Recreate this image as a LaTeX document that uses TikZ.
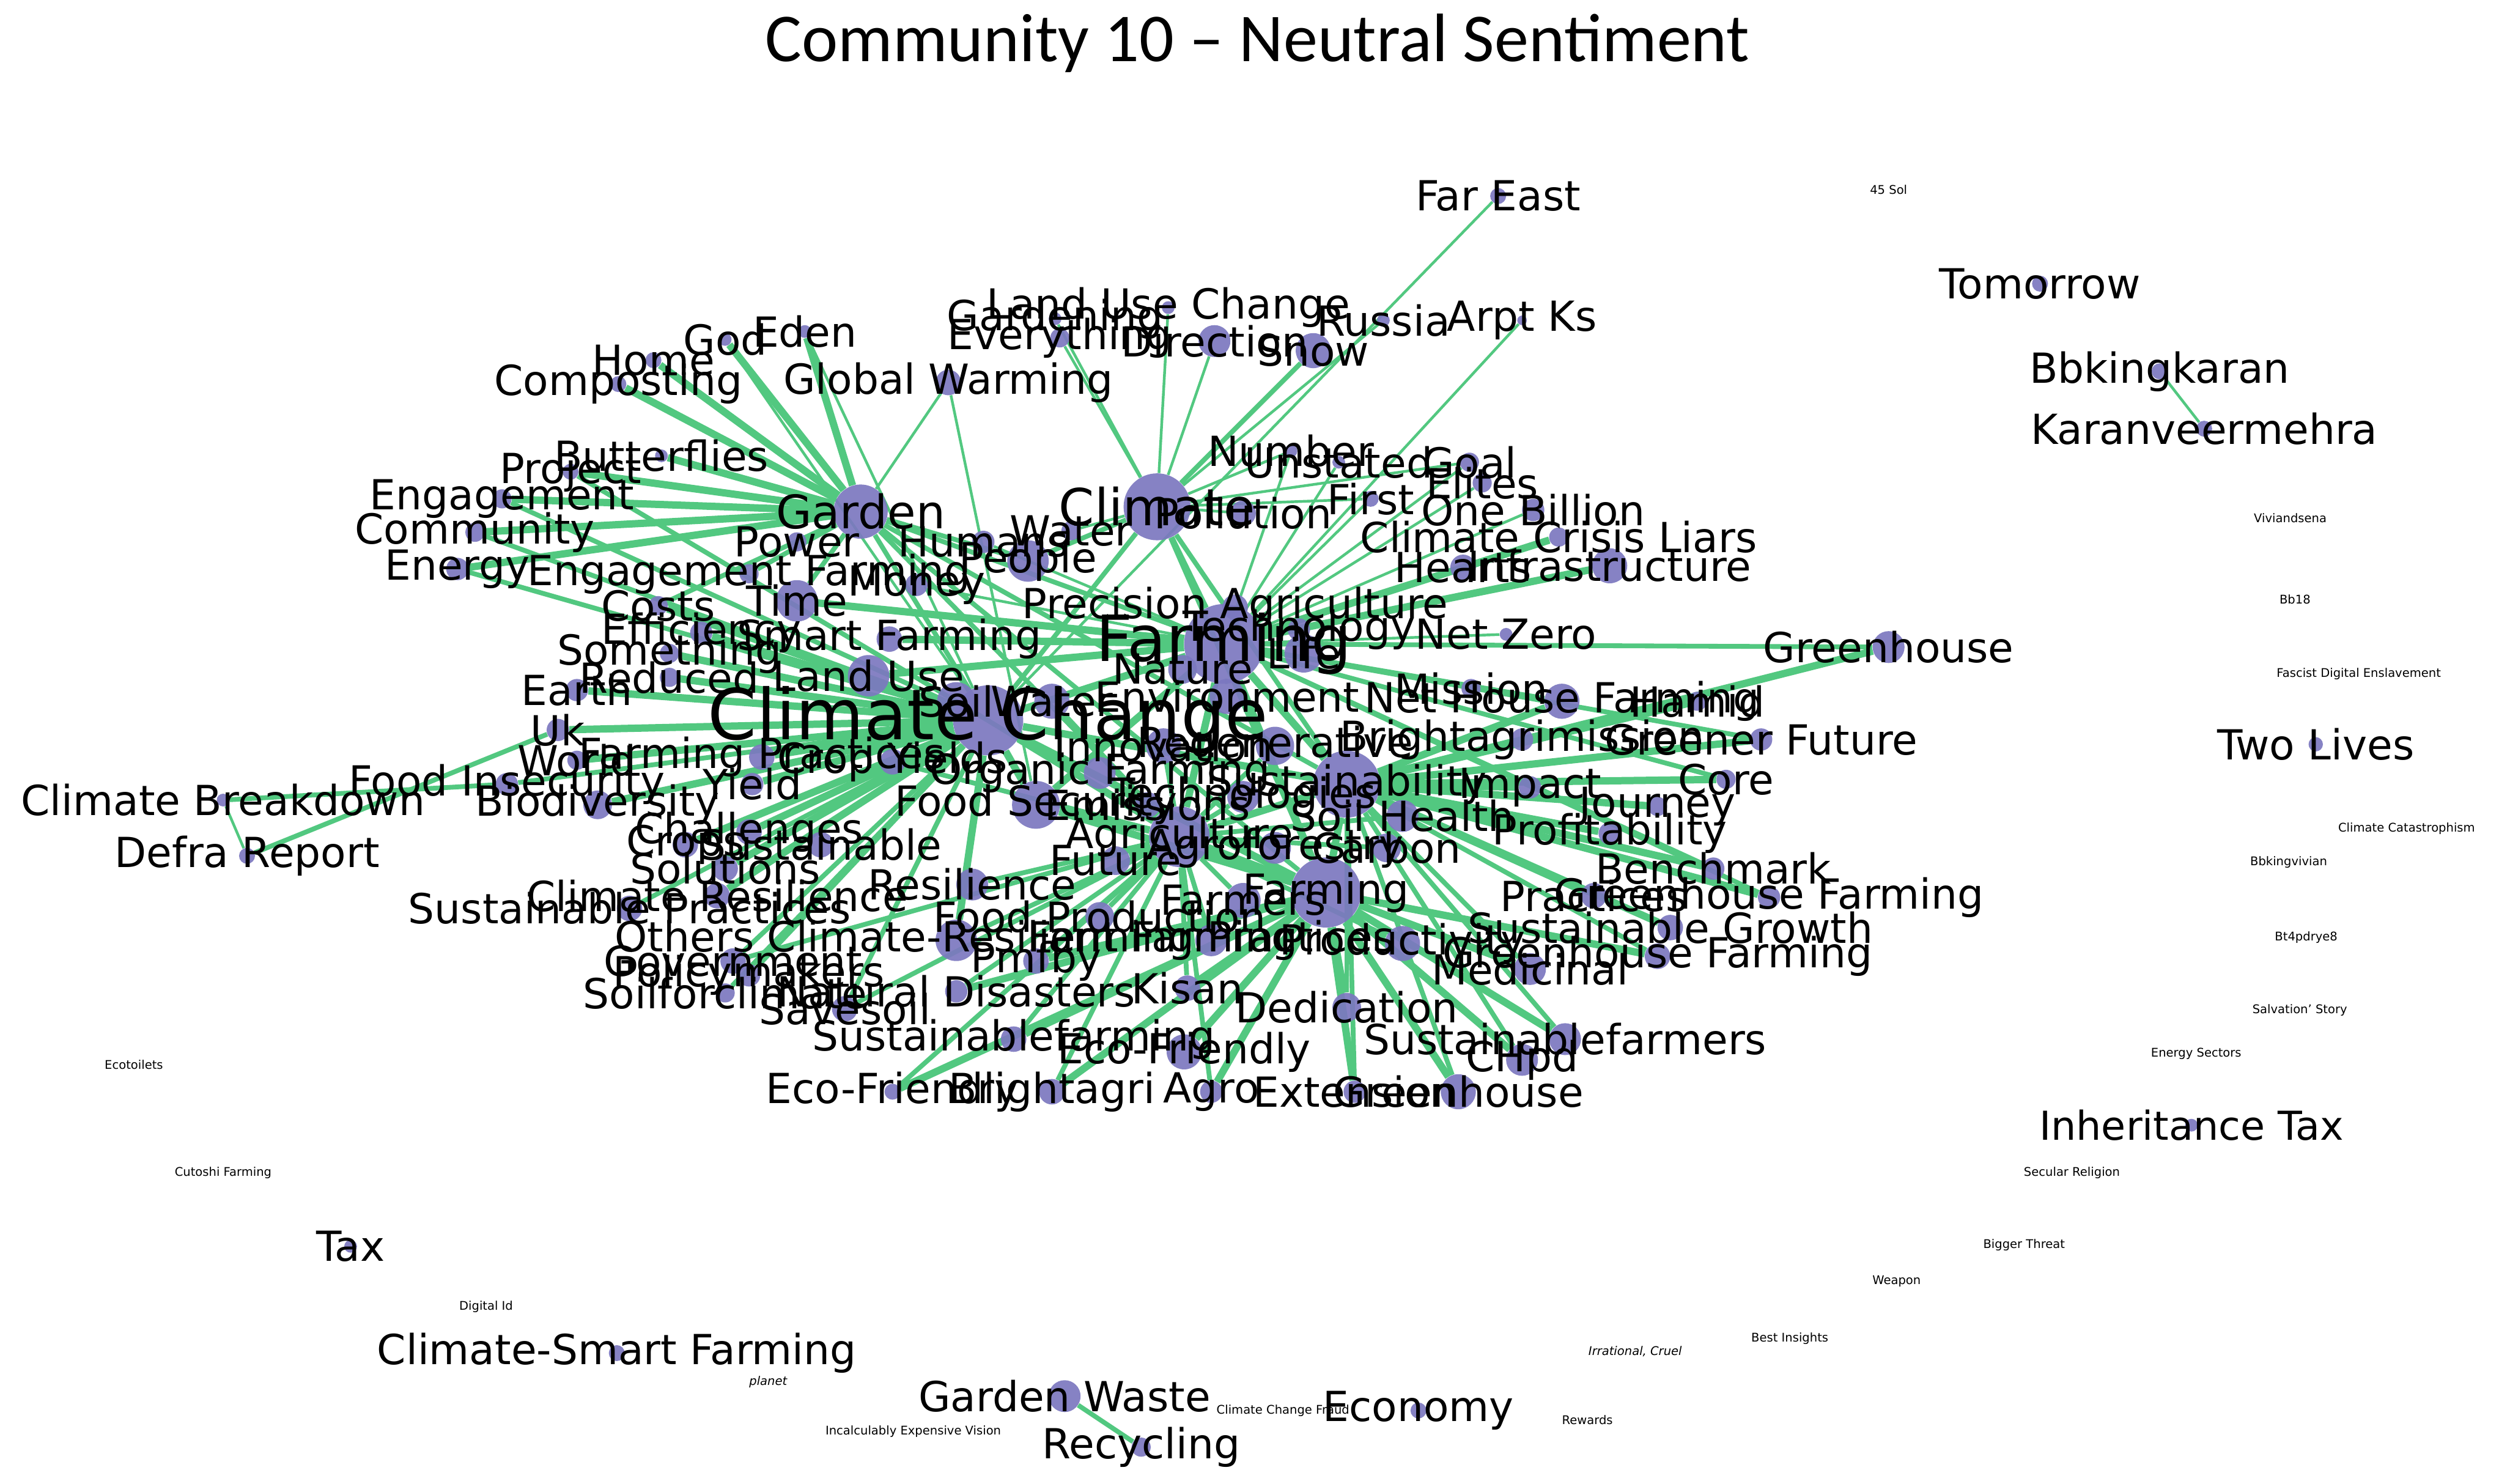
\documentclass[tikz,border=0pt]{standalone}
\usepackage{fontspec}
\setmainfont{DejaVu Sans}
\newfontfamily\titlefont{Carlito}
\usetikzlibrary{backgrounds}
\definecolor{edgegreen}{RGB}{82,200,128}
\definecolor{dotpurple}{RGB}{124,120,192}
\pgfdeclarelayer{fg}
\pgfsetlayers{background,main,fg}
\tikzset{
  dot/.style={circle,fill=dotpurple,fill opacity=0.92,inner sep=0pt,draw=none},
  lbl/.style={inner sep=0pt,text=black},
  ea/.style={draw=edgegreen,line width=1.7pt},
  eb/.style={draw=edgegreen,line width=3pt},
  ec/.style={draw=edgegreen,line width=4.6pt},
}
% name, x, y, dot diameter, font size, text
\newcommand\vx[6]{%
  \node[dot,minimum size=#4pt] (#1) at (#2,#3) {};
  \begin{pgfonlayer}{fg}\node[lbl,font=\fontsize{#5}{#5}\selectfont] (#1t) at (#2,#3) {#6};\end{pgfonlayer}}
% text only
\newcommand\tx[5]{%
  \begin{pgfonlayer}{fg}\node[lbl,font=\fontsize{#4}{#4}\selectfont] (#1) at (#2,#3) {#5};\end{pgfonlayer}}
\begin{document}
\begin{tikzpicture}[x=1pt,y=-1pt]
\useasboundingbox (0,0) rectangle (1568,931);
\tx{title}{789}{27}{43}{\titlefont Community 10 – Neutral Sentiment}

% ---------- hubs
\vx{farm}{768}{404}{50}{40}{Farming}
\vx{clch}{620}{452}{44}{44}{Climate Change}
\vx{climT}{726}{318}{42}{32}{Climate}
\vx{garden}{540}{321}{34}{29}{Garden}
\vx{hubA}{845}{492}{42}{26}{Sustainability}
\vx{hubB}{832}{560}{44}{26}{Farming}
\vx{hubC}{740}{525}{38}{26}{Agriculture}
\vx{hubD}{650}{505}{30}{26}{Food Security}

% ---------- top
\vx{fe}{940}{123}{10}{26}{Far East}
\vx{lu}{733}{193}{8}{26}{Land Use Change}
\vx{gard2}{662}{200}{8}{26}{Gardening}
\vx{every}{665}{212}{12}{26}{Everything}
\vx{dir}{762}{214}{20}{26}{Direction}
\vx{snow}{824}{220}{22}{26}{Snow}
\vx{rus}{868}{201}{8}{26}{Russia}
\vx{arp}{955}{201}{6}{26}{Arpt Ks}
\vx{eden}{505}{208}{8}{26}{Eden}
\vx{god}{455}{213}{8}{26}{God}
\vx{home}{410}{226}{10}{26}{Home}
\vx{comp}{388}{241}{10}{26}{Composting}
\vx{gwarm}{595}{240}{16}{26}{Global Warming}
\vx{butt}{415}{286}{8}{26}{Butterflies}
\vx{proj}{358}{296}{10}{26}{Project}
\vx{eng}{315}{313}{12}{26}{Engagement}
\vx{comm}{298}{334}{12}{26}{Community}
\vx{ener}{287}{357}{14}{26}{Energy}
\vx{ef}{470}{360}{12}{26}{Engagement Farming}
\vx{power}{500}{340}{12}{26}{Power}
\vx{hum}{617}{340}{14}{26}{Humans}
\vx{water}{672}{333}{12}{26}{Water}
\vx{people}{645}{352}{26}{26}{People}
\vx{poll}{780}{322}{16}{26}{Pollution}
\vx{numb}{810}{283}{8}{26}{Number}
\vx{unst}{840}{290}{8}{26}{Unstated}
\vx{goal}{922}{290}{12}{26}{Goal}
\vx{first}{860}{313}{10}{26}{First}
\vx{elit}{930}{303}{12}{26}{Elites}
\vx{oneb}{962}{320}{14}{26}{One Billion}
\vx{ccl}{978}{337}{12}{26}{Climate Crisis Liars}
\vx{hear}{918}{356}{16}{26}{Hearts}
\vx{infra}{1010}{355}{22}{26}{Infrastructure}

% ---------- left middle
\vx{money}{575}{367}{14}{26}{Money}
\vx{time}{500}{377}{26}{26}{Time}
\vx{costs}{413}{380}{12}{26}{Costs}
\vx{effi}{440}{397}{14}{26}{Efficiency}
\vx{smart}{558}{401}{16}{26}{Smart Farming}
\vx{someth}{420}{410}{12}{26}{Something}
\vx{redu}{420}{425}{12}{26}{Reduced}
\vx{landuse}{545}{424}{26}{26}{Land Use}
\vx{earth}{362}{433}{14}{26}{Earth}
\vx{uk}{350}{458}{14}{26}{Uk}
\vx{world}{362}{477}{12}{26}{World}
\vx{fp}{478}{475}{16}{26}{Farming Practices}
\vx{fi}{318}{492}{14}{26}{Food Insecurity}
\vx{bio}{375}{505}{18}{26}{Biodiversity}
\vx{yield}{472}{492}{14}{26}{Yield}
\vx{chal}{470}{522}{16}{26}{Challenges}
\vx{crops}{430}{530}{16}{26}{Crops}
\vx{susa}{515}{530}{16}{26}{Sustainable}
\vx{solu}{455}{545}{16}{26}{Solutions}
\vx{cres}{450}{562}{16}{26}{Climate Resilience}
\vx{spract}{395}{570}{16}{26}{Sustainable Practices}
\vx{ocrf}{600}{590}{26}{26}{Others Climate-Resilient Farming}
\vx{gov}{460}{603}{16}{26}{Government}
\vx{polm}{470}{612}{14}{26}{Policymakers}
\vx{soilf}{455}{623}{12}{26}{Soilforclimate}
\vx{pmfby}{650}{603}{16}{26}{Pmfby}
\vx{natd}{600}{622}{14}{26}{Natural Disasters}
\vx{kisan}{745}{620}{16}{26}{Kisan}
\vx{saves}{530}{633}{16}{26}{Savesoil}
\vx{sfarm}{636}{652}{16}{26}{Sustainablefarming}
\vx{ecof}{743}{660}{22}{26}{Eco-Friendly}
\vx{ecob}{560}{685}{10}{26}{Eco-Friendly}
\vx{brightb}{660}{685}{16}{26}{Brightagri}
\vx{agro}{760}{685}{14}{26}{Agro}
\vx{exte}{850}{685}{14}{26}{Extension}
\vx{prefb}{915}{685}{22}{26}{Greenhouse}

% ---------- centre
\vx{prec}{775}{381}{16}{26}{Precision Agriculture}
\vx{techn}{815}{395}{14}{26}{Technology}
\vx{life}{818}{410}{24}{26}{Life}
\vx{nature}{742}{420}{18}{26}{Nature}
\vx{envi}{770}{437}{22}{26}{Environment}
\vx{soil}{600}{440}{24}{26}{Soil}
\vx{wat2}{660}{440}{22}{26}{Water}
\vx{innov}{730}{468}{22}{26}{Innovation}
\vx{regen}{800}{468}{24}{26}{Regenerative}
\vx{organ}{690}{485}{20}{26}{Organic Farming}
\vx{crp}{560}{478}{16}{26}{Crop Yields}
\vx{techb}{780}{500}{20}{26}{Technologies}
\vx{carb}{870}{532}{18}{26}{Carbon}
\vx{emis}{720}{505}{16}{26}{Emissions}
\vx{agrof}{800}{532}{20}{26}{Agroforestry}
\vx{fprod}{690}{575}{18}{26}{Food Production}
\vx{fut}{700}{540}{18}{26}{Future}
\vx{resil}{610}{555}{20}{26}{Resilience}
\vx{farmers}{780}{565}{22}{26}{Farmers}
\vx{health}{880}{512}{20}{26}{Soil Health}
\vx{sspr}{760}{590}{20}{26}{Farming Practices}
\vx{produ}{880}{592}{22}{26}{Productivity}

% ---------- right middle
\vx{netz}{945}{398}{8}{26}{Net Zero}
\vx{green}{1185}{406}{20}{26}{Greenhouse}
\vx{miss}{923}{432}{12}{26}{Mission}
\vx{nhf}{980}{440}{22}{26}{Net House Farming}
\vx{hamid}{1065}{440}{12}{26}{Hamid}
\vx{bright}{955}{464}{14}{26}{Brightagrimission}
\vx{gfut}{1105}{464}{14}{26}{Greener Future}
\vx{core}{1083}{489}{12}{26}{Core}
\vx{impact}{960}{494}{14}{26}{Impact}
\vx{journ}{1040}{506}{12}{26}{Journey}
\vx{profit}{1010}{523}{14}{26}{Profitability}
\vx{bench}{1075}{545}{14}{26}{Benchmark}
\vx{practi}{1000}{562}{16}{26}{Practices}
\vx{ghf}{1110}{563}{14}{26}{Greenhouse Farming}
\vx{sgrow}{1048}{582}{16}{26}{Sustainable Growth}
\vx{ghf2}{1040}{600}{16}{26}{Greenhouse Farming}
\vx{medi}{960}{608}{20}{26}{Medicinal}
\vx{dedic}{845}{632}{18}{26}{Dedication}
\vx{sfarmers}{982}{652}{20}{26}{Sustainablefarmers}
\vx{chpd}{955}{665}{20}{26}{CHpd}

% ---------- far left
\vx{cbreak}{140}{502}{8}{26}{Climate Breakdown}
\vx{defra}{155}{537}{10}{26}{Defra Report}

% ---------- right and bottom outliers
\vx{tom}{1280}{178}{10}{26}{Tomorrow}
\vx{bbk}{1355}{233}{10}{26}{Bbkingkaran}
\vx{kar}{1383}{269}{10}{26}{Karanveermehra}
\vx{two}{1453}{467}{9}{26}{Two Lives}
\vx{inh}{1375}{706}{8}{25}{Inheritance Tax}
\vx{econ}{890}{885}{10}{26}{Economy}
\vx{recy}{716}{908}{12}{26}{Recycling}
\vx{gwaste}{668}{876}{20}{26}{Garden Waste}
\vx{csf}{387}{849}{10}{26}{Climate-Smart Farming}
\vx{tax}{220}{782}{8}{26}{Tax}

\tx{sol}{1185}{119}{7.5}{45 Sol}
\tx{viv}{1437}{325}{7.5}{Viviandsena}
\tx{bb18}{1440}{376}{7.5}{Bb18}
\tx{fde}{1480}{423}{7.5}{Fascist Digital Enslavement}
\tx{ccat}{1510}{520}{7.5}{Climate Catastrophism}
\tx{bbv}{1436}{541}{7.5}{Bbkingvivian}
\tx{bt4}{1447}{588}{7.5}{Bt4pdrye8}
\tx{salv}{1443}{634}{7.5}{Salvation' Story}
\tx{ensec}{1378}{661}{7.5}{Energy Sectors}
\tx{secr}{1300}{736}{7.5}{Secular Religion}
\tx{bigt}{1270}{781}{7.5}{Bigger Threat}
\tx{weap}{1190}{804}{7.5}{Weapon}
\tx{besti}{1123}{840}{7.5}{Best Insights}
\tx{irra}{1026}{848}{7.5}{\itshape Irrational, Cruel}
\tx{rewa}{996}{891}{7.5}{Rewards}
\tx{ccfr}{805}{885}{7.5}{Climate Change Fraud}
\tx{incal}{573}{898}{7.5}{Incalculably Expensive Vision}
\tx{plan}{482}{867}{7.5}{\itshape planet}
\tx{digid}{305}{820}{7.5}{Digital Id}
\tx{cuto}{140}{736}{7.5}{Cutoshi Farming}
\tx{ecot}{84}{668}{7.5}{Ecotoilets}

% ---------- edges
\begin{pgfonlayer}{background}
\fill[white] (0,0) rectangle (1568,931);
\draw[ea] (bbk) -- (kar);
\draw[eb] (gwaste) -- (recy);
\draw[ea] (fe) -- (clch);
\draw[ea] (cbreak) -- (defra);
\draw[eb] (cbreak) -- (fi);
\draw[eb] (defra) -- (uk);
\draw[eb] (fi) -- (clch);
% garden fan
\foreach \n in {eden,god,home,comp,butt,proj,eng,comm,ener} \draw[ec] (garden) -- (\n);
\foreach \n in {ef,power,time,costs,farm,clch,hubA,hubC,people,hubB} \draw[eb] (garden) -- (\n);
\draw[ea] (garden) -- (gwarm);
% climate top fan
\foreach \n in {lu,gard2,every,dir,rus,numb,first,goal,poll,water} \draw[ea] (climT) -- (\n);
\foreach \n in {snow,people,farm,clch,hubA,hubB} \draw[eb] (climT) -- (\n);
\draw[ea] (gwarm) -- (hubD);
\draw[ea] (arp) -- (farm);
\draw[ea] (eden) -- (clch);
\draw[ea] (god) -- (clch);
% farming hub
\foreach \n in {netz,elit,oneb,goal,hear,unst,miss,nature,prec,life,envi,hum,money,first,numb} \draw[ea] (farm) -- (\n);
\foreach \n in {infra,ccl,clch,hubA,hubB,hubC,hubD,smart,landuse} \draw[ec] (farm) -- (\n);
\draw[ec] (farm) -- (time);
% climate change hub
\foreach \n in {costs,effi,someth,redu,earth,uk,world,fp,bio,yield,chal,crops,solu,cres} \draw[ec] (clch) -- (\n);
\foreach \n in {ener,comm,eng,spract,gov,polm,soilf,saves,proj} \draw[eb] (clch) -- (\n);
\foreach \n in {hubA,hubB,hubC,hubD,ocrf} \draw[ec] (clch) -- (\n);
% centre hubs
\foreach \n in {green,nhf,hamid,bright,gfut,core,impact,journ,profit,bench,practi,ghf,sgrow} \draw[ec] (hubA) -- (\n);
\foreach \n in {ghf2,medi,dedic,sfarmers,chpd,prefb,exte,agro,ecof,kisan,pmfby,sfarm,natd,brightb,ecob} \draw[ec] (hubB) -- (\n);
\foreach \n in {fut,resil,farmers,health,sspr,produ,organ,innov,regen,techb,soil,wat2,crp,carb,emis,agrof,fprod} \draw[eb] (hubC) -- (\n);
\foreach \n in {ocrf,gov,saves,sfarm,natd,pmfby,kisan,ecob,brightb,agro} \draw[eb] (hubC) -- (\n);
\foreach \n in {sfarmers,chpd,prefb,medi,ghf2,sgrow,dedic,exte} \draw[eb] (hubA) -- (\n);
\foreach \n in {hubA,hubC,hubD} \draw[ec] (hubB) -- (\n);
\foreach \n in {green,nhf,gfut,bench,ghf,core} \draw[eb] (farm) -- (\n);
\draw[ec] (hubA) -- (hubC);
\draw[ec] (hubD) -- (hubC);
\end{pgfonlayer}
\end{tikzpicture}
\end{document}
